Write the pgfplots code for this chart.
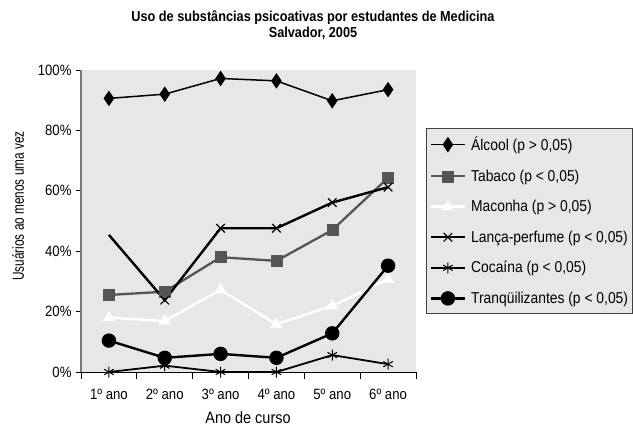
\documentclass[border=0pt]{standalone}
\usepackage{fontspec}
\setmainfont{Liberation Sans}[FakeStretch=0.88]
\newfontfamily\narrowfont{Liberation Sans}[FakeStretch=0.74]
\usepackage{pgfplots}
\pgfplotsset{compat=1.18}
\definecolor{bg}{RGB}{230,231,232}
\definecolor{tab}{RGB}{85,85,85}
\definecolor{yax}{RGB}{120,120,120}
\pgfplotsset{lancaimg/.style={legend image code/.code={\draw[##1, mark indices={2}] plot coordinates {(0bp,0bp) (17bp,0bp) (34bp,0bp)};}}}
\begin{document}
\begin{tikzpicture}[x=1bp,y=1bp]
\path[use as bounding box] (-81bp,-55bp) rectangle (552bp,372bp);
\begin{axis}[
  at={(0,0)}, anchor=south west,
  scale only axis, width=335bp, height=302bp,
  xmin=-0.5, xmax=5.5, ymin=0, ymax=100,
  axis x line*=bottom, axis y line*=left,
  x axis line style={-, black, line width=0.9bp},
  y axis line style={-, yax, line width=1.2bp},
  axis background/.style={fill=bg},
  xtick={0,1,2,3,4,5},
  xticklabels={1º ano,2º ano,3º ano,4º ano,5º ano,6º ano},
  major x tick style={draw=none},
  minor xtick={-0.5,0.5,1.5,2.5,3.5,4.5,5.5},
  minor x tick style={black, line width=0.8bp},
  minor tick length=7bp,
  ytick={0,20,40,60,80,100},
  yticklabel={\pgfmathprintnumber{\tick}\%},
  y tick style={black, line width=0.8bp},
  major tick length=5bp,
  tick align=outside,
  /pgf/number format/assume math mode=true,
  tick label style={font=\fontsize{15}{17}\selectfont},
  yticklabel style={xshift=-1bp},
  xticklabel style={yshift=-9bp},
  legend style={at={(1.03,0.808)}, anchor=north west, fill=bg, draw=black!75, line width=1.2bp,
    font=\fontsize{15.8}{18}\selectfont, row sep=13.6bp, inner xsep=3bp, inner ysep=6.5bp,
    /tikz/every odd column/.append style={column sep=3bp}},
  legend cell align=left,
  legend image code/.code={\draw[mark repeat=2, mark phase=2, #1] plot coordinates {(0bp,0bp) (17bp,0bp) (34bp,0bp)};},
  clip=false,
]
\addplot[black, line width=1.5bp, mark=diamond*, mark size=6.5bp, mark options={solid, fill=black, xscale=0.9}]
  coordinates {(0,90.6) (1,92.0) (2,97.2) (3,96.4) (4,89.8) (5,93.5)};
\addlegendentry{Álcool (p > 0,05)}
\addplot[tab, line width=2.3bp, mark=square*, mark size=5.5bp, mark options={solid, fill=tab, line width=0.5bp}]
  coordinates {(0,25.5) (1,26.6) (2,38.0) (3,36.8) (4,47.0) (5,64.3)};
\addlegendentry{Tabaco (p < 0,05)}
\addplot[white, line width=2.5bp, mark=triangle*, mark size=6.5bp, mark options={solid, fill=white, line width=0.5bp}]
  coordinates {(0,18.0) (1,16.9) (2,27.2) (3,15.8) (4,21.9) (5,30.7)};
\addlegendentry{Maconha (p > 0,05)}
\addplot[black, line width=2.4bp, mark=x, mark size=6bp, mark indices={2,3,4,5,6}, mark options={solid, line width=1.2bp}, lancaimg]
  coordinates {(0,45.4) (1,23.8) (2,47.6) (3,47.6) (4,56.1) (5,61.2)};
\addlegendentry{Lança-perfume (p < 0,05)}
\addplot[black, line width=1.8bp, mark=asterisk, mark size=5.5bp, mark options={solid, line width=1bp}]
  coordinates {(0,0) (1,2.1) (2,0) (3,0) (4,5.6) (5,2.6)};
\addlegendentry{Cocaína (p < 0,05)}
\addplot[black, line width=2.4bp, mark=*, mark size=6bp, mark options={solid, fill=black}]
  coordinates {(0,10.4) (1,4.7) (2,6.0) (3,4.7) (4,12.8) (5,35.2)};
\addlegendentry{Tranqüilizantes (p < 0,05)}
\end{axis}
\node[font=\bfseries\fontsize{14.5}{16}\selectfont, align=center] at (232bp,347bp)
  {Uso de substâncias psicoativas por estudantes de Medicina\\Salvador, 2005};
\node[font=\narrowfont\fontsize{16}{18}\selectfont, rotate=90] at (-63bp,166bp) {Usuários ao menos uma vez};
\node[font=\fontsize{16.5}{18}\selectfont] at (167bp,-46bp) {Ano de curso};
\end{tikzpicture}
\end{document}
